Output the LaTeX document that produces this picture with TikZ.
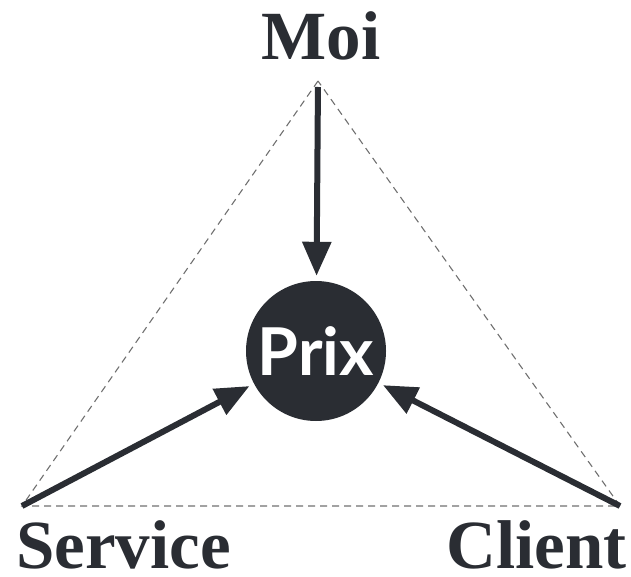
\documentclass[tikz,border=0pt]{standalone}
\usepackage{fontspec}
\setmainfont{Liberation Serif}
\newfontfamily\prixfont{Lato}
\usetikzlibrary{arrows.meta}
\definecolor{ink}{HTML}{2A2D33}
\definecolor{dashgray}{HTML}{707070}
\tikzset{
  label text/.style={text=ink, font=\fontsize{69}{69}\selectfont\bfseries, inner sep=0pt},
  guide/.style={draw=dashgray, line width=1.1pt, dash pattern=on 7pt off 5pt},
  force/.style={draw=ink, line width=6pt, -{Triangle[length=34pt,width=28pt]}, shorten >=5pt},
  core/.style={circle, fill=ink, minimum size=140pt, inner sep=0pt,
    text=white, font=\prixfont\fontsize{66}{66}\selectfont\bfseries}
}
\begin{document}
\begin{tikzpicture}[x=1pt,y=-1pt]
  \useasboundingbox (0,0) rectangle (631,577);
  % corners of the triangle
  \coordinate (top) at (318,81);
  \coordinate (left) at (22,506);
  \coordinate (right) at (620,506);
  % dashed outline
  \draw[guide] (top) -- (left) -- (right) -- cycle;
  % central disc
  \node[core] (prix) at (316,351) {Prix};
  % labels
  \node[label text, anchor=base] (moi) at (321,60) {Moi};
  \node[label text, anchor=base west] (service) at (16,568) {Service};
  \node[label text, anchor=base east] (client) at (627,568) {Client};
  % arrows into the disc
  \draw[force, shorten <=6pt] (top) -- (prix);
  \draw[force] (left) -- (prix);
  \draw[force] (right) -- (prix);
\end{tikzpicture}
\end{document}
